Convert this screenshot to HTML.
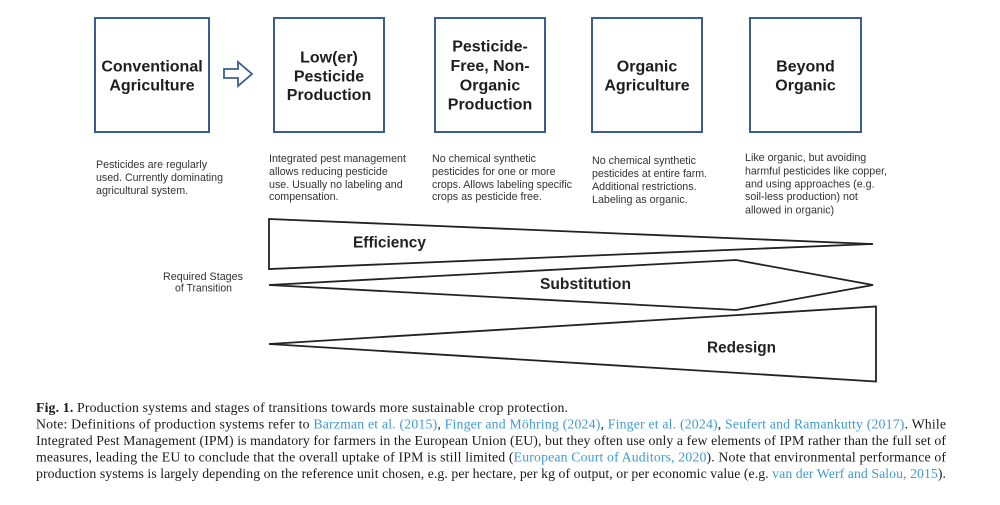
<!DOCTYPE html>
<html>
<head>
<meta charset="utf-8">
<style>
  html, body { margin: 0; padding: 0; background: #fff; }
  body { width: 1000px; height: 505px; overflow: hidden; }
  svg { display: block; }
  .t { font-family: "Liberation Sans", Arial, sans-serif; font-weight: bold; font-size: 16px; fill: #1e1e1e; text-anchor: middle; }
  .d { font-family: "Liberation Sans", Arial, sans-serif; font-size: 10.7px; fill: #333; }
  .s { font-family: "Liberation Sans", Arial, sans-serif; font-weight: bold; font-size: 15.5px; fill: #222; }
  .c { font-family: "Liberation Serif", "Times New Roman", serif; font-size: 13.8px; fill: #1a1a1a; }
  .l { fill: #3f9bd0; }
  .box { fill: #fff; stroke: #3b5e8e; stroke-width: 2; }
  .shp { fill: #fff; stroke: #222; stroke-width: 1.8; stroke-linejoin: miter; }
</style>
</head>
<body>
<svg width="1000" height="505" viewBox="0 0 1000 505" xmlns="http://www.w3.org/2000/svg">
  <rect x="0" y="0" width="1000" height="505" fill="#fff"/>

  <!-- Boxes -->
  <rect class="box" x="95" y="18" width="114" height="114"/>
  <rect class="box" x="274" y="18" width="110" height="114"/>
  <rect class="box" x="435" y="18" width="110" height="114"/>
  <rect class="box" x="592" y="18" width="110" height="114"/>
  <rect class="box" x="750" y="18" width="111" height="114"/>

  <!-- Hollow arrow -->
  <polygon points="224,69 238,69 238,62 252,74 238,86 238,78 224,78" fill="#fff" stroke="#3b5e8e" stroke-width="1.8" stroke-linejoin="miter"/>

  <!-- Box titles -->
  <text class="t" x="152" y="71.7">Conventional</text>
  <text class="t" x="152" y="90.5">Agriculture</text>

  <text class="t" x="329" y="62.5">Low(er)</text>
  <text class="t" x="329" y="81.3">Pesticide</text>
  <text class="t" x="329" y="100">Production</text>

  <text class="t" x="490" y="51.7">Pesticide-</text>
  <text class="t" x="490" y="71">Free, Non-</text>
  <text class="t" x="490" y="90.3">Organic</text>
  <text class="t" x="490" y="109.7">Production</text>

  <text class="t" x="647" y="71.7">Organic</text>
  <text class="t" x="647" y="90.5">Agriculture</text>

  <text class="t" x="805.5" y="71.7">Beyond</text>
  <text class="t" x="805.5" y="90.5">Organic</text>

  <!-- Descriptions -->
  <text class="d" x="96" y="168">Pesticides are regularly</text>
  <text class="d" x="96" y="181" textLength="127" lengthAdjust="spacingAndGlyphs">used. Currently dominating</text>
  <text class="d" x="96" y="194">agricultural system.</text>

  <text class="d" x="269" y="162" textLength="137" lengthAdjust="spacingAndGlyphs">Integrated pest management</text>
  <text class="d" x="269" y="175">allows reducing pesticide</text>
  <text class="d" x="269" y="188">use. Usually no labeling and</text>
  <text class="d" x="269" y="200">compensation.</text>

  <text class="d" x="432" y="162">No chemical synthetic</text>
  <text class="d" x="432" y="175">pesticides for one or more</text>
  <text class="d" x="432" y="188" textLength="140" lengthAdjust="spacingAndGlyphs">crops. Allows labeling specific</text>
  <text class="d" x="432" y="200">crops as pesticide free.</text>

  <text class="d" x="592" y="164">No chemical synthetic</text>
  <text class="d" x="592" y="177" textLength="115" lengthAdjust="spacingAndGlyphs">pesticides at entire farm.</text>
  <text class="d" x="592" y="190">Additional restrictions.</text>
  <text class="d" x="592" y="203">Labeling as organic.</text>

  <text class="d" x="745" y="161">Like organic, but avoiding</text>
  <text class="d" x="745" y="174.5" textLength="142" lengthAdjust="spacingAndGlyphs">harmful pesticides like copper,</text>
  <text class="d" x="745" y="187.3">and using approaches (e.g.</text>
  <text class="d" x="745" y="200">soil-less production) not</text>
  <text class="d" x="745" y="213.3">allowed in organic)</text>

  <!-- Transition shapes -->
  <polygon class="shp" points="269,219 872,244 269,269"/>
  <line x1="860" y1="244" x2="873" y2="244" stroke="#222" stroke-width="1.8"/>
  <polygon class="shp" points="269,285 736,260 873,285 736,310"/>
  <polygon class="shp" points="269,344 876,306.5 876,381.5"/>

  <text class="s" x="353" y="247.7" textLength="73" lengthAdjust="spacingAndGlyphs">Efficiency</text>
  <text class="s" x="540" y="289" textLength="91" lengthAdjust="spacingAndGlyphs">Substitution</text>
  <text class="s" x="707" y="352.3" textLength="69" lengthAdjust="spacingAndGlyphs">Redesign</text>

  <text class="d" x="203" y="280" text-anchor="middle" font-size="10.5" textLength="80" lengthAdjust="spacingAndGlyphs" style="fill:#333">Required Stages</text>
  <text class="d" x="203.5" y="291.7" text-anchor="middle" font-size="10.5" textLength="57" lengthAdjust="spacingAndGlyphs" style="fill:#333">of Transition</text>

  <!-- Caption -->
  <text class="c" x="36" y="412" textLength="532" lengthAdjust="spacing"><tspan font-weight="bold">Fig. 1.</tspan> Production systems and stages of transitions towards more sustainable crop protection.</text>
  <text class="c" x="36" y="428.5" textLength="910" lengthAdjust="spacing">Note: Definitions of production systems refer to <tspan class="l">Barzman et al. (2015)</tspan>, <tspan class="l">Finger and Möhring (2024)</tspan>, <tspan class="l">Finger et al. (2024)</tspan>, <tspan class="l">Seufert and Ramankutty (2017)</tspan>. While</text>
  <text class="c" x="36" y="445" textLength="910" lengthAdjust="spacing">Integrated Pest Management (IPM) is mandatory for farmers in the European Union (EU), but they often use only a few elements of IPM rather than the full set of</text>
  <text class="c" x="36" y="461.5" textLength="910" lengthAdjust="spacing">measures, leading the EU to conclude that the overall uptake of IPM is still limited (<tspan class="l">European Court of Auditors, 2020</tspan>). Note that environmental performance of</text>
  <text class="c" x="36" y="478" textLength="910" lengthAdjust="spacing">production systems is largely depending on the reference unit chosen, e.g. per hectare, per kg of output, or per economic value (e.g. <tspan class="l">van der Werf and Salou, 2015</tspan>).</text>
</svg>
</body>
</html>
